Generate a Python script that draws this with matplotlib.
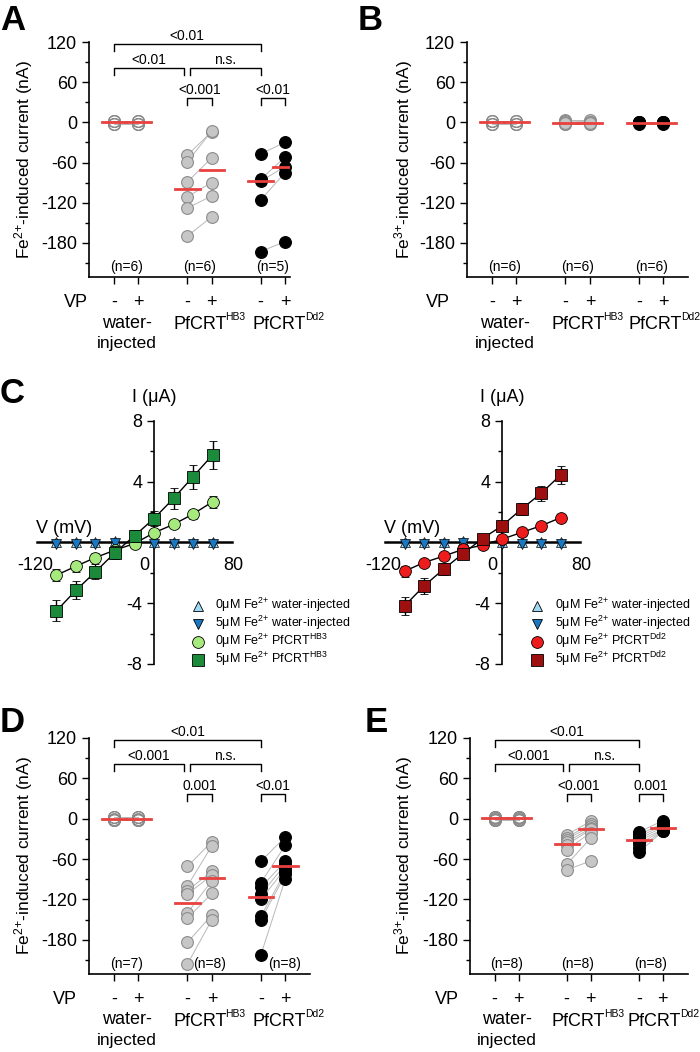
import numpy as np
import matplotlib
matplotlib.use('Agg')
import matplotlib.pyplot as plt
from matplotlib.lines import Line2D

# ---- panel A: Fe2+ induced current (nA) ----
a_water_minus = [2.5, -2.5, 2, -2, 2.5, -2]
a_water_plus = [2.5, -2.5, 2, -2, 2.5, -2]
a_hb3_minus = [-49, -59, -89, -111, -128, -170]
a_hb3_plus = [-14, -13, -53, -90, -110, -141]
a_dd2_minus = [-47, -85, -88, -116, -193]
a_dd2_plus = [-30, -52, -66, -75, -178]

# ---- panel B: Fe3+ induced current (nA) ----
b_water_minus = [2.5, -2.5, 2, -2, 2.5, -2]
b_water_plus = [2.5, -2.5, 2, -2, 2.5, -2]
b_hb3_minus = [3, -3, 2, -2, 0, -1]
b_hb3_plus = [3, -3, 1, -2, 0, -1]
b_dd2_minus = [1, -1, 0, -2, 1, -1]
b_dd2_plus = [1, -1, 0, -2, 1, -1]

# ---- panel D: Fe2+ induced current (nA) ----
d_water_minus = [2.5, -2.5, 2, -2, 2.5, -2, 0]
d_water_plus = [2.5, -2.5, 2, -2, 2.5, -2, 0]
d_hb3_minus = [-71, -100, -107, -112, -140, -148, -184, -216]
d_hb3_plus = [-34, -40, -78, -84, -92, -111, -143, -150]
d_dd2_minus = [-63, -95, -102, -112, -120, -145, -150, -202]
d_dd2_plus = [-27, -39, -63, -68, -74, -78, -83, -89]

# ---- panel E: Fe3+ induced current (nA) ----
e_water_minus = [2.5, -2.5, 2, -2, 2.5, -2, 0, 1]
e_water_plus = [2.5, -2.5, 2, -2, 2.5, -2, 0, 1]
e_hb3_minus = [-24, -28, -31, -35, -39, -46, -68, -76]
e_hb3_plus = [-4, -8, -11, -14, -16, -21, -29, -63]
e_dd2_minus = [-20, -24, -27, -30, -33, -38, -44, -50]
e_dd2_plus = [-3, -7, -10, -13, -16, -17, -18, -19]

# ---- panel C: I/V relationships ----
voltages = [-100, -80, -60, -40, -20, 0, 20, 40, 60]
water_0 = [0.05, 0.04, 0.05, 0.08, 0.05, 0.03, 0.04, 0.05, 0.04]
water_5 = [-0.08, -0.07, -0.08, -0.06, -0.05, -0.08, -0.09, -0.08, -0.1]
hb3_0 = [-2.15, -1.56, -0.99, -0.5, -0.07, 0.64, 1.19, 1.87, 2.68]
hb3_0_err = [0.4, 0.35, 0.3, 0.2, 0.15, 0.2, 0.2, 0.3, 0.4]
hb3_5 = [-4.5, -3.14, -1.93, -0.66, 0.44, 1.58, 2.9, 4.33, 5.76]
hb3_5_err = [0.7, 0.6, 0.5, 0.4, 0.4, 0.5, 0.7, 0.8, 0.9]
dd2_0 = [-1.89, -1.32, -0.9, -0.45, -0.18, 0.22, 0.66, 1.1, 1.63]
dd2_0_err = [0.35, 0.25, 0.2, 0.15, 0.1, 0.15, 0.15, 0.2, 0.25]
dd2_5 = [-4.18, -2.86, -1.76, -0.73, 0.26, 1.1, 2.2, 3.23, 4.44]
dd2_5_err = [0.6, 0.5, 0.4, 0.3, 0.3, 0.3, 0.4, 0.5, 0.6]

positions = [0, 1, 3, 4, 6, 7]

plt.rcParams['font.family'] = ['Liberation Sans', 'DejaVu Sans']
plt.rcParams['mathtext.fontset'] = 'custom'
plt.rcParams['mathtext.rm'] = 'Liberation Sans'
plt.rcParams['mathtext.it'] = 'Liberation Sans:italic'
plt.rcParams['mathtext.bf'] = 'Liberation Sans:bold'
plt.rcParams['axes.unicode_minus'] = False

W, H = 700, 1052
fig = plt.figure(figsize=(7, 10.52), dpi=100)


def px_box(l, t, r, b):
    return [l / W, 1 - b / H, (r - l) / W, (b - t) / H]


def ftext(x, y, s, **kw):
    fig.text(x / W, 1 - y / H, s, **kw)


def bracket(ax, x1, x2, y, label, leg=10):
    ax.plot([x1, x1, x2, x2], [y - leg, y, y, y - leg], color='k', lw=1, clip_on=False)
    ax.text((x1 + x2) / 2, y + 2, label, ha='center', va='bottom', fontsize=10, clip_on=False)


def under(ax, x, dy, s, size=13, ha='center', dx=0):
    ax.annotate(s, xy=(x, 0), xycoords=('data', 'axes fraction'),
                xytext=(dx, -dy * 0.72), textcoords='offset points',
                ha=ha, va='center', fontsize=size, annotation_clip=False)


def sup_label(ax, xr, main, sup):
    under(ax, xr, 47, main, size=13, ha='right')
    under(ax, xr, 40, sup, size=7.5, ha='left', dx=-0.8)


def dot_panel(ax, data, ylabel, xmax, nlabels, vp_x, dd2_x):
    styles = [('none', '#8a8a8a'), ('#c6c6c6', '#8c8c8c'), ('k', 'k')]
    ax.set_xlim(-1.02, xmax)
    ax.set_ylim(-231, 120)
    for sp in ['top', 'right']:
        ax.spines[sp].set_visible(False)
    for sp in ['left', 'bottom']:
        ax.spines[sp].set_linewidth(1.2)
    ax.set_yticks([-180, -120, -60, 0, 60, 120])
    ax.set_yticks([-210, -150, -90, -30, 30, 90], minor=True)
    ax.set_xticks(positions)
    ax.set_xticklabels([])
    ax.tick_params(which='major', length=5, width=1, labelsize=13)
    ax.tick_params(which='minor', length=3, width=1)
    ax.set_ylabel(ylabel, fontsize=12.5)
    for g in range(3):
        xm, xp = positions[2 * g], positions[2 * g + 1]
        minus, plus = data[2 * g], data[2 * g + 1]
        fc, ec = styles[g]
        for a, b in zip(minus, plus):
            ax.plot([xm, xp], [a, b], color='#b8b8b8', lw=0.7, zorder=1)
        for x, vals in [(xm, minus), (xp, plus)]:
            ax.plot([x] * len(vals), vals, 'o', ms=8.5, mfc=fc, mec=ec, mew=0.8,
                    zorder=2, clip_on=False)
            med = np.median(vals)
            ax.plot([x - 0.5, x + 0.5], [med, med], color='#e8413f', lw=2, zorder=3)
    for (x, s) in nlabels:
        ax.text(x, -216, s, ha='center', va='center', fontsize=10)
    for i, x in enumerate(positions):
        under(ax, x, 25, '-' if i % 2 == 0 else '+')
    under(ax, vp_x, 25, 'VP')
    under(ax, 0.53, 46, 'water-')
    under(ax, 0.53, 66, 'injected', size=12.5)
    sup_label(ax, 4.6, 'PfCRT', 'HB3')
    sup_label(ax, dd2_x, 'PfCRT', 'Dd2')


fe2 = r'Fe$^{2{+}}$-induced current (nA)'
fe3 = r'Fe$^{3{+}}$-induced current (nA)'

# Panel A
axA = fig.add_axes(px_box(89, 42, 290, 277))
dot_panel(axA, [a_water_minus, a_water_plus, a_hb3_minus, a_hb3_plus, a_dd2_minus, a_dd2_plus],
          fe2, 7.2, [(0.5, '(n=6)'), (3.5, '(n=6)'), (6.5, '(n=5)')], -1.55, 7.85)
axA.yaxis.set_label_coords(-0.27, 0.5)
bracket(axA, 0, 6, 117, '<0.01')
bracket(axA, 0, 2.86, 81, '<0.01')
bracket(axA, 3.1, 6, 81, 'n.s.')
bracket(axA, 3, 4, 36, '<0.001')
bracket(axA, 6, 7, 36, '<0.01')

# Panel B
axB = fig.add_axes(px_box(467, 42, 688, 277))
dot_panel(axB, [b_water_minus, b_water_plus, b_hb3_minus, b_hb3_plus, b_dd2_minus, b_dd2_plus],
          fe3, 8.0, [(0.5, '(n=6)'), (3.5, '(n=6)'), (6.5, '(n=6)')], -2.2, 7.75)
axB.yaxis.set_label_coords(-0.235, 0.5)

# Panel D
axD = fig.add_axes(px_box(89, 738, 310, 974))
dot_panel(axD, [d_water_minus, d_water_plus, d_hb3_minus, d_hb3_plus, d_dd2_minus, d_dd2_plus],
          fe2, 8.0, [(0.5, '(n=7)'), (3.9, '(n=8)'), (6.95, '(n=8)')], -2.0, 7.85)
axD.yaxis.set_label_coords(-0.245, 0.5)
bracket(axD, 0, 6, 117, '<0.01')
bracket(axD, 0, 2.86, 81, '<0.001')
bracket(axD, 3.1, 6, 81, 'n.s.')
bracket(axD, 3, 4, 36, '0.001')
bracket(axD, 6, 7, 36, '<0.01')

# Panel E
axE = fig.add_axes(px_box(470, 738, 688, 974))
dot_panel(axE, [e_water_minus, e_water_plus, e_hb3_minus, e_hb3_plus, e_dd2_minus, e_dd2_plus],
          fe3, 8.05, [(0.5, '(n=8)'), (3.45, '(n=8)'), (6.5, '(n=8)')], -2.0, 7.75)
axE.yaxis.set_label_coords(-0.252, 0.5)
bracket(axE, 0, 6, 117, '<0.01')
bracket(axE, 0, 2.86, 81, '<0.001')
bracket(axE, 3.1, 6, 81, 'n.s.')
bracket(axE, 3, 4, 36, '<0.001')
bracket(axE, 6, 7, 36, '0.001')

# Panel C
lightblue = '#9fd8f2'
blue = '#1a78c2'


def iv_panel(ax, i0, e0, i5, e5, c0, c5, name, mx, tx):
    ax.set_xlim(-120, 80)
    ax.set_ylim(-8, 8)
    ax.spines['left'].set_position(('data', 0))
    ax.spines['bottom'].set_position(('data', 0))
    for sp in ['top', 'right']:
        ax.spines[sp].set_visible(False)
    ax.spines['left'].set_linewidth(1.2)
    ax.spines['bottom'].set_linewidth(1.8)
    ax.set_xticks([])
    ax.set_yticks([-8, -4, 4, 8])
    ax.set_yticks([-6, -2, 2, 6], minor=True)
    ax.tick_params(which='major', length=5, width=1, labelsize=13)
    ax.tick_params(which='minor', length=3, width=1)
    ax.plot(voltages, water_0, '^', ms=7, mfc=lightblue, mec='k', mew=0.5, zorder=3, clip_on=False)
    ax.plot(voltages, water_5, 'v', ms=7, mfc=blue, mec='k', mew=0.5, zorder=3, clip_on=False)
    ax.errorbar(voltages, i0, yerr=e0, fmt='-o', color='k', lw=1, ms=8.5, mfc=c0, mec='k',
                mew=0.6, capsize=3, elinewidth=1, zorder=4)
    ax.errorbar(voltages, i5, yerr=e5, fmt='-s', color='k', lw=1, ms=8, mfc=c5, mec='k',
                mew=0.6, capsize=3, elinewidth=1, zorder=5)
    ax.text(-122, -1.5, '-120', ha='center', va='center', fontsize=13)
    ax.text(-10, -1.5, '0', ha='center', va='center', fontsize=13)
    ax.text(81, -1.5, '80', ha='center', va='center', fontsize=13)
    ax.text(-92, 0.95, 'V (mV)', ha='center', va='center', fontsize=13)
    ax.text(0, 9.55, 'I (\u03bcA)', ha='center', va='center', fontsize=13, clip_on=False)

    rows = [('^', 7, lightblue, '0\u03bcM Fe$^{2{+}}$ water-injected'),
            ('v', 7, blue, '5\u03bcM Fe$^{2{+}}$ water-injected'),
            ('o', 8.5, c0, '0\u03bcM Fe$^{2{+}}$ PfCRT$^{\\mathrm{%s}}$' % name),
            ('s', 8, c5, '5\u03bcM Fe$^{2{+}}$ PfCRT$^{\\mathrm{%s}}$' % name)]
    for (m, ms, fc, label), y in zip(rows, [606, 624, 642, 660]):
        fig.add_artist(Line2D([mx / W], [1 - y / H], transform=fig.transFigure, marker=m,
                              ms=ms, mfc=fc, mec='k', mew=0.6, ls='none'))
        ftext(tx, y + 3.5, label, fontsize=9, ha='left', va='baseline')


axC1 = fig.add_axes(px_box(37, 421, 232, 664))
iv_panel(axC1, hb3_0, hb3_0_err, hb3_5, hb3_5_err, '#a6ea7e', '#1b8a3a', 'HB3', 198, 215)
axC2 = fig.add_axes(px_box(385, 421, 580, 664))
iv_panel(axC2, dd2_0, dd2_0_err, dd2_5, dd2_5_err, '#ee1c1c', '#9e1010', 'Dd2', 537, 555)

for letter, x, y in [('A', 0, 30), ('B', 358, 30), ('C', 0, 403), ('D', 0, 732), ('E', 365, 732)]:
    ftext(x, y, letter, fontsize=25, fontweight='bold', ha='left', va='baseline')

fig.savefig('out.png', dpi=100)
